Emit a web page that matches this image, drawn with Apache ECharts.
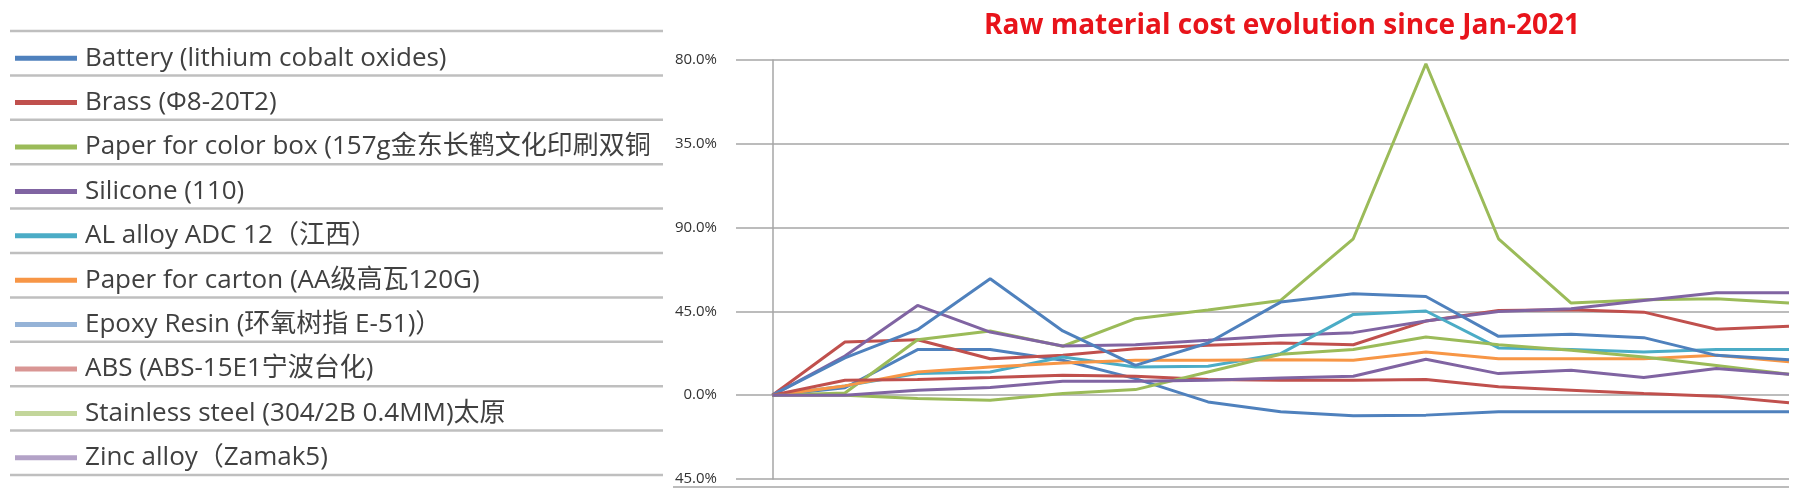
<!DOCTYPE html>
<html>
<head>
<meta charset="utf-8">
<script src="https://cdn.jsdelivr.net/npm/echarts@6/dist/echarts.min.js"></script>
<style>
html,body{margin:0;padding:0;background:#fff;}
#c{width:1800px;height:499px;}
</style>
</head>
<body>
<div id="c"></div>
<script>
// ---- data ----
const months = ['Jan-2021','Feb-2021','Mar-2021','Apr-2021','May-2021','Jun-2021','Jul-2021','Aug-2021','Sep-2021','Oct-2021','Nov-2021','Dec-2021','Jan-2022','Feb-2022','Mar-2022'];
const seriesNames = [
  'Battery (lithium cobalt oxides)',
  'Brass (Φ8-20T2)',
  'Paper for color box (157g金东长鹤文化印刷双铜',
  'Silicone (110)',
  'AL alloy ADC 12（江西）',
  'Paper for carton (AA级高瓦120G)',
  'Epoxy Resin (环氧树指 E-51)）',
  'ABS (ABS-15E1宁波台化)',
  'Stainless steel (304/2B 0.4MM)太原',
  'Zinc alloy（Zamak5)'
];
const battery   = [0, 4, 24.5, 24.5, 18.8, 8.9, -3.6, -8.9, -11, -10.7, -8.9, -8.9, -8.9, -8.9, -8.9];
const brass     = [0, 28.6, 29.8, 19.6, 21.4, 25, 26.8, 28, 27.1, 39.8, 45.5, 45.9, 44.6, 35.4, 37];
const colorBox  = [0, 1.2, 29.8, 34.5, 26.3, 41.1, 45.7, 50.9, 84, 178, 84, 49.5, 51.3, 51.8, 49.5];
const silicone  = [0, 21, 48.2, 33.9, 26.4, 27.1, 29.5, 32.1, 33.6, 39.8, 45, 46.4, 50.9, 55, 55];
const alAlloy   = [0, 5, 11.6, 12.5, 20.5, 15.2, 15.5, 22.3, 43.4, 45.2, 25.4, 24.5, 23.2, 24.6, 24.5];
const carton    = [0, 5, 12.5, 15.2, 17.3, 18.8, 18.8, 19.1, 18.8, 23.2, 19.6, 19.6, 19.6, 21.4, 18];
const epoxy     = [0, 20, 35.2, 62.5, 34.5, 16, 28, 50, 54.5, 53, 31.6, 32.7, 30.9, 21.4, 19.1];
const abs       = [0, 8, 8.4, 9.5, 10.7, 10.2, 8.4, 8, 8, 8.4, 4.5, 2.7, 0.9, -0.5, -4.1];
const stainless = [0, 0, -1.8, -2.7, 0.9, 3, 12.5, 22, 24.5, 31.3, 27.1, 24.1, 20.5, 16, 11.25];
const zinc      = [0, 0, 2.7, 4.1, 7.5, 7.5, 8, 9.3, 10.2, 19.3, 11.6, 13.4, 9.5, 14.3, 11.25];
const yTickLabels = ['45.0%','0.0%','45.0%','90.0%','35.0%','80.0%'];
const title = 'Raw material cost evolution since Jan-2021';

// ---- styles ----
const lineColors   = ['#4F81BD','#C0504D','#9BBB59','#8064A2','#4BACC6','#F79646','#4F81BD','#C0504D','#9BBB59','#8064A2'];
const legendColors = ['#4F81BD','#C0504D','#9BBB59','#8064A2','#4BACC6','#F79646','#95B3D7','#D99694','#C3D69B','#B3A2C7'];
const allValues = [battery, brass, colorBox, silicone, alAlloy, carton, epoxy, abs, stainless, zinc];
const FONT = "'Open Sans','Noto Sans CJK SC',sans-serif";

const chart = echarts.init(document.getElementById('c'), null, {renderer:'canvas'});

const rowTop = 31, rowH = 44.4;
const tableLines = [];
for (let k = 0; k <= 10; k++) {
  tableLines.push({
    type:'line', silent:true,
    shape:{x1:10, y1:rowTop + k*rowH, x2:663, y2:rowTop + k*rowH},
    style:{stroke:'#BFBFBF', lineWidth:2.5}
  });
}
tableLines.push({
  type:'line', silent:true,
  shape:{x1:673, y1:487, x2:1789, y2:487},
  style:{stroke:'#A6A6A6', lineWidth:1.5}
});

chart.setOption({
  animation:false,
  backgroundColor:'#fff',
  title:{
    text:title, left:979, top:5,
    textStyle:{fontFamily:FONT, fontSize:28, fontWeight:'bold', color:'#E8141B', lineHeight:33}
  },
  legend:{
    orient:'vertical', left:10, top:rowTop + rowH/2 - 15,
    icon:'rect', itemWidth:62, itemHeight:5, itemGap:rowH - 30,
    textStyle:{fontFamily:FONT, fontSize:26, color:'#404040', lineHeight:30, padding:[0,0,0,3]},
    data: seriesNames.map((n,i)=>{
      const d = {name:n, itemStyle:{color:legendColors[i]}};
      if (i === 2) d.textStyle = {width:580, overflow:'truncate', ellipsis:''};
      return d;
    }),
    selectedMode:false
  },
  grid:{left:736, right:11, top:60, bottom:20, containLabel:false},
  xAxis:{
    type:'value', min:-0.5, max:months.length - 1,
    axisLine:{show:false}, axisTick:{show:false}, axisLabel:{show:false}, splitLine:{show:false}
  },
  yAxis:{
    type:'value', min:-45, max:180, interval:45,
    axisLine:{show:true, lineStyle:{color:'#A6A6A6', width:1.5}},
    axisTick:{show:false},
    splitLine:{show:true, lineStyle:{color:'#A6A6A6', width:1.5}},
    axisLabel:{
      margin:19, fontFamily:FONT, fontSize:15, color:'#333',
      formatter:(v)=> yTickLabels[Math.round((v + 45)/45)]
    }
  },
  graphic: tableLines,
  series: allValues.map((vals,i)=>({
    name:seriesNames[i], type:'line',
    data: vals.map((v,j)=>[j, v]),
    showSymbol:false, symbol:'none',
    lineStyle:{color:lineColors[i], width:3},
    itemStyle:{color:lineColors[i]},
    z: 2
  }))
});
</script>
</body>
</html>
